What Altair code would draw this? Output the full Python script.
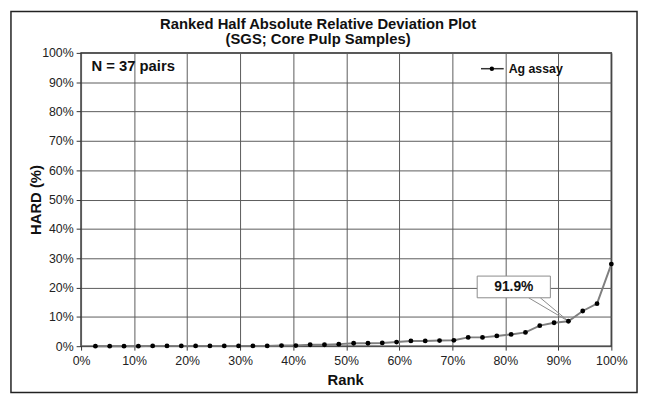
import altair as alt
import pandas as pd

# Rank (%) of each pair and its HARD value (%)
rank_pct = [2.7, 5.4, 8.1, 10.8, 13.5, 16.2, 18.9, 21.6, 24.3, 27.0, 29.7, 32.4, 35.1,
            37.8, 40.5, 43.2, 45.9, 48.6, 51.4, 54.1, 56.8, 59.5, 62.2, 64.9, 67.6,
            70.3, 73.0, 75.7, 78.4, 81.1, 83.8, 86.5, 89.2, 91.9, 94.6, 97.3, 100.0]
hard_pct = [0.0, 0.0, 0.0, 0.0, 0.1, 0.1, 0.1, 0.1, 0.1, 0.1, 0.1, 0.1, 0.1,
            0.2, 0.2, 0.5, 0.5, 0.7, 1.0, 1.0, 1.1, 1.4, 1.8, 1.8, 1.9,
            2.0, 3.0, 3.0, 3.5, 4.0, 4.7, 7.0, 8.0, 8.5, 12.0, 14.5, 28.0]
ticks = [0, 10, 20, 30, 40, 50, 60, 70, 80, 90, 100]

df = pd.DataFrame({"rank": rank_pct, "hard": hard_pct})

W, H = 537, 297
FONT = "Liberation Sans"

xs = alt.Scale(domain=[0, 100], nice=False)
ys = alt.Scale(domain=[0, 100], nice=False)

common = dict(values=ticks, labelExpr="datum.value + '%'", title=None, grid=True,
              gridColor="#5a5a5a", gridWidth=1, tickColor="#333", domain=False,
              labelFont=FONT, labelFontSize=12.5, labelColor="#222",
              labelOverlap=False, labelFlush=False, labelBound=False)
xaxis = alt.Axis(tickSize=4, labelPadding=5, **common)
yaxis = alt.Axis(tickSize=5, labelPadding=3, **common)

base = alt.Chart(df)

line = base.mark_line(color="#7f7f7f", strokeWidth=2).encode(
    x=alt.X("rank:Q", scale=xs, axis=xaxis),
    y=alt.Y("hard:Q", scale=ys, axis=yaxis),
)
pts = base.mark_point(filled=True, color="black", size=24, opacity=1).encode(
    x=alt.X("rank:Q", scale=xs, axis=xaxis), y=alt.Y("hard:Q", scale=ys, axis=yaxis)
)

# Callout (data-space annotation)
callout_box = pd.DataFrame({"x": [74.7], "x2": [88.5], "y": [16.5], "y2": [23.9]})
box = alt.Chart(callout_box).mark_rect(fill="white", stroke="#8a8a8a", strokeWidth=1).encode(
    x=alt.X("x:Q", scale=xs, axis=xaxis), x2="x2:Q",
    y=alt.Y("y:Q", scale=ys, axis=yaxis), y2="y2:Q"
)
callout_lbl = pd.DataFrame({"x": [81.6], "y": [20.2], "t": ["91.9%"]})
lbl = alt.Chart(callout_lbl).mark_text(font=FONT, fontSize=14, fontWeight="bold",
                                        color="#111").encode(
    x=alt.X("x:Q", scale=xs, axis=xaxis), y=alt.Y("y:Q", scale=ys, axis=yaxis), text="t:N"
)
ptr = pd.DataFrame({"x": [84.4, 86.6], "y": [16.5, 16.5], "x2": [91.9, 91.9], "y2": [8.5, 8.5]})
pointer = alt.Chart(ptr).mark_rule(color="#8a8a8a", strokeWidth=1).encode(
    x=alt.X("x:Q", scale=xs, axis=xaxis), y=alt.Y("y:Q", scale=ys, axis=yaxis),
    x2="x2:Q", y2="y2:Q"
)

# Frame around the whole chart
frame = alt.Chart(pd.DataFrame({"a": [0]})).mark_rect(
    fill=None, stroke="#222", strokeWidth=1.5, clip=False
).encode(x=alt.value(-71), x2=alt.value(563), y=alt.value(-42), y2=alt.value(344))


def text_layer(t, x, y, size=15, align="center", angle=0):
    return alt.Chart(pd.DataFrame({"t": [t]})).mark_text(
        font=FONT, fontSize=size, fontWeight="bold", color="#111", align=align,
        baseline="middle", angle=angle
    ).encode(x=alt.value(x), y=alt.value(y), text="t:N")


title1 = text_layer("Ranked Half Absolute Relative Deviation Plot", 240, -29.5)
title2 = text_layer("(SGS; Core Pulp Samples)", 240, -14)
ytitle = text_layer("HARD (%)", -46, 149, angle=270)
xtitle = text_layer("Rank", 268, 331)
ntext = text_layer("N = 37 pairs", 10.5, 13, align="left")

# Legend
leg_line = alt.Chart(pd.DataFrame({"a": [0]})).mark_rule(color="#333", strokeWidth=1.5).encode(
    x=alt.value(405), x2=alt.value(428), y=alt.value(16))
leg_pt = alt.Chart(pd.DataFrame({"a": [0]})).mark_point(filled=True, color="black", size=20,
                                                        opacity=1).encode(
    x=alt.value(416), y=alt.value(16))
leg_txt = text_layer("Ag assay", 433, 16, size=12.5, align="left")

chart = alt.layer(
    line, pointer, box, lbl, pts, frame, title1, title2, ytitle, xtitle, ntext,
    leg_line, leg_pt, leg_txt
).properties(
    width=W, height=H,
    autosize=alt.AutoSizeParams(type="none"),
    padding={"left": 74, "top": 43, "right": 28, "bottom": 49},
    background="white",
).configure_view(stroke="#222", strokeWidth=1.5)

chart.save("out.html", embed_options={"renderer": "svg", "actions": False})
